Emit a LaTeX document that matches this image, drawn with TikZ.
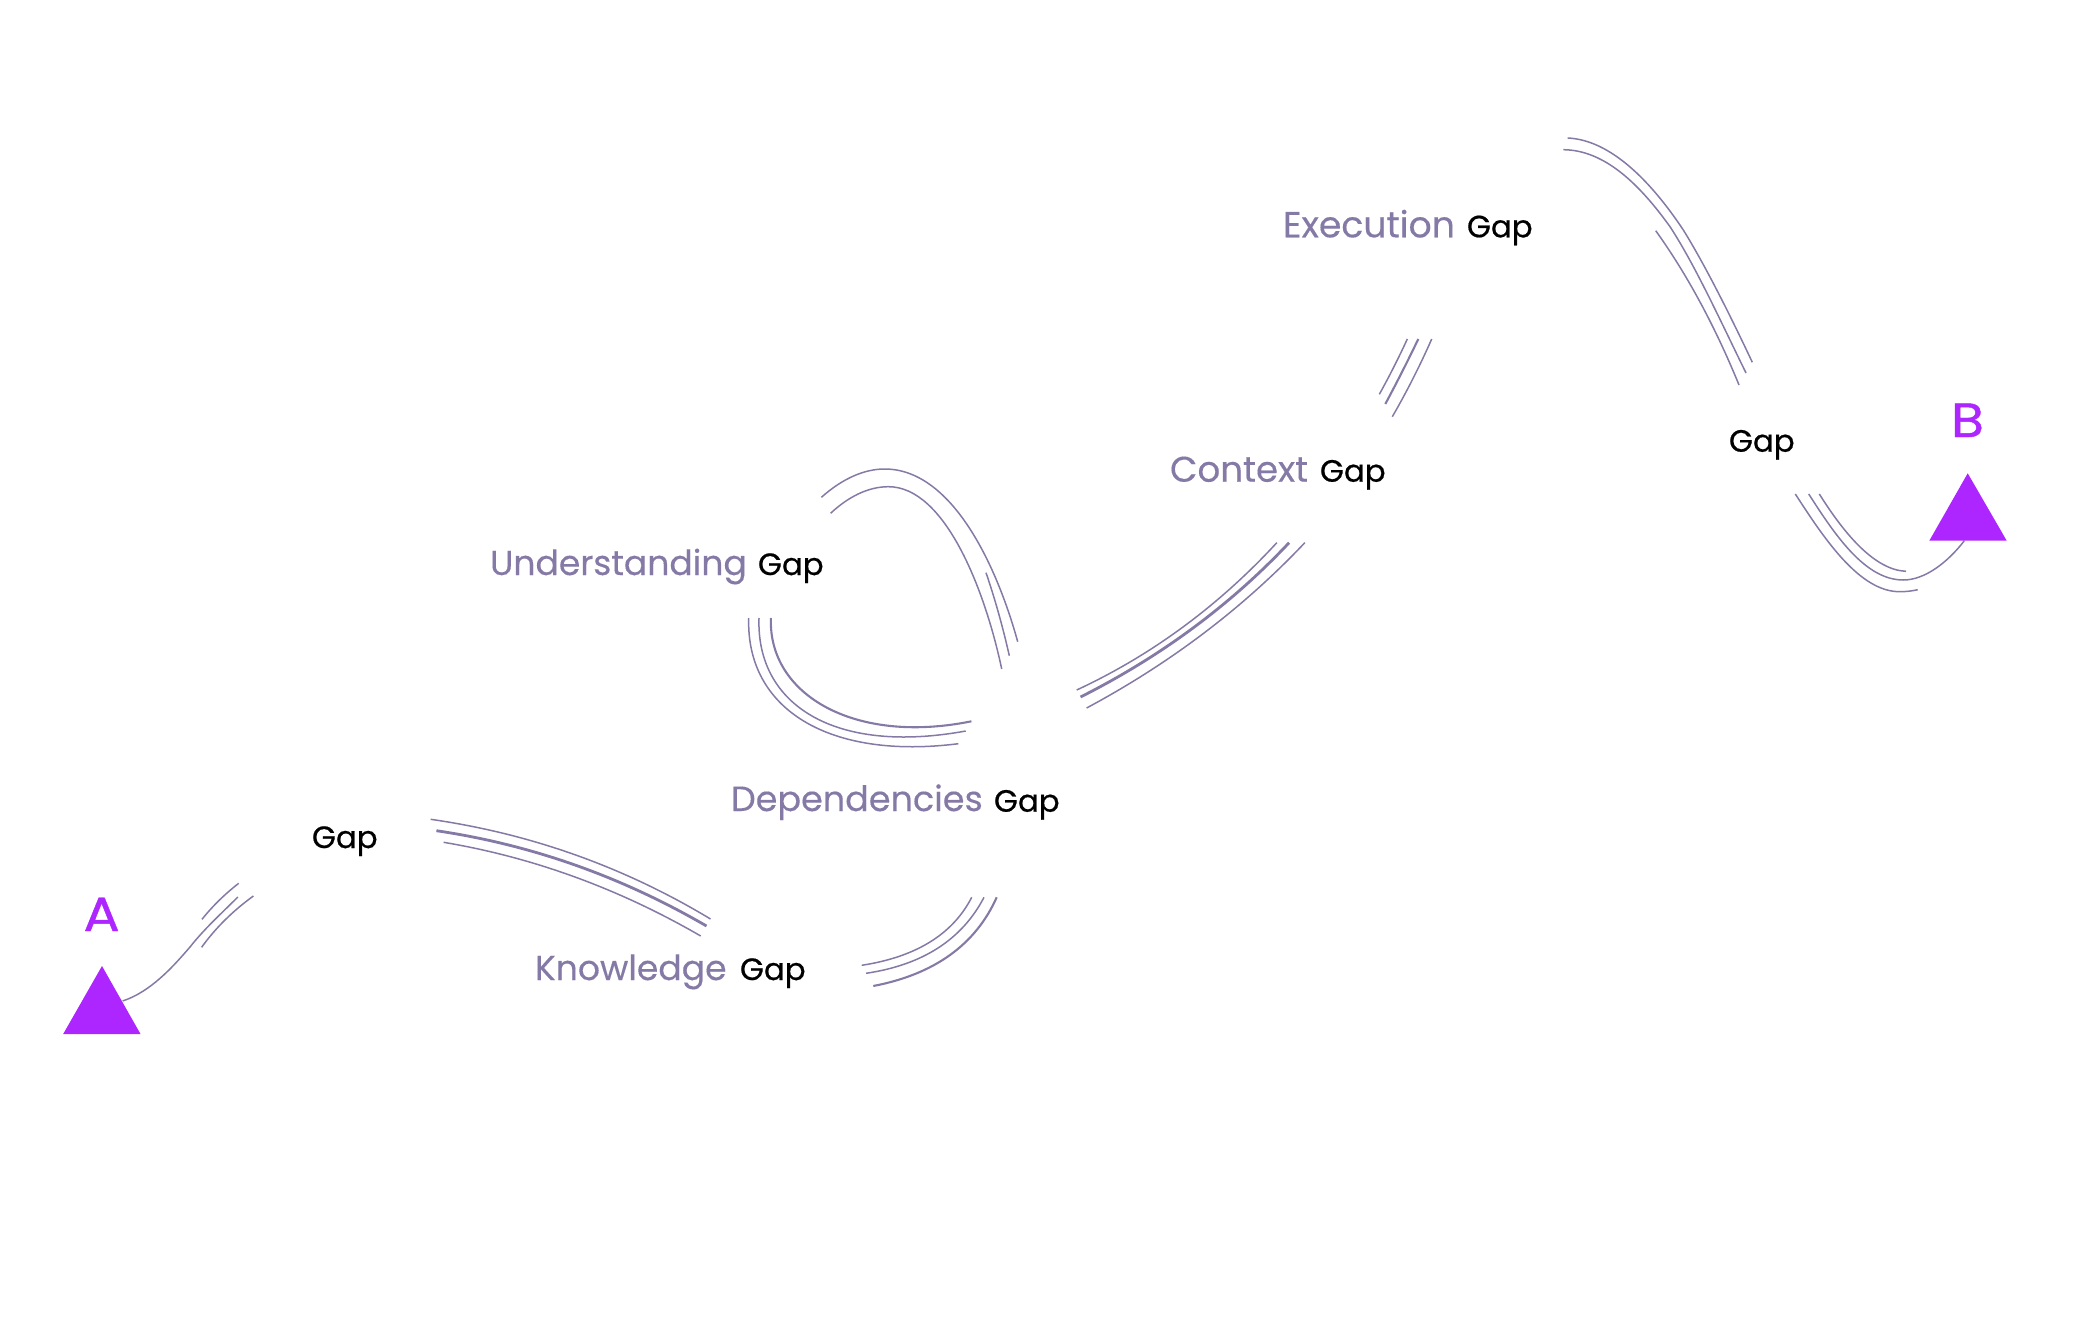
\documentclass[tikz,border=0pt]{standalone}
\usepackage{fontspec}
\usetikzlibrary{calc}
\newfontfamily\wordfont{Poppins}[FakeBold=0.3]
\newfontfamily\gapfont{Poppins}[FakeBold=0.6]
\newfontfamily\endfont{Poppins}[FakeBold=0.9,FakeStretch=1.12]
\definecolor{gapline}{HTML}{8579A6}
\definecolor{tri}{HTML}{AD26FF}
\newcommand{\arcthru}[4]{%
  \coordinate (qq) at ($2*(#3)-0.5*(#2)-0.5*(#4)$);
  \draw[#1] (#2) .. controls ($(#2)!0.6667!(qq)$) and ($(#4)!0.6667!(qq)$) .. (#4);}
\tikzset{
 x=0.5pt,y=-0.5pt,
 thin line/.style={draw=gapline,line width=0.75pt},
 medium line/.style={draw=gapline,line width=1.05pt},
 thick line/.style={draw=gapline,line width=1.4pt},
 lab/.style={anchor=base west,inner sep=0pt,outer sep=0pt},
 purple word/.style={lab,text=gapline,font=\wordfont\fontsize{#1}{20pt}\selectfont},
 purple word/.default=17.3pt,
 black word/.style={lab,text=black,font=\gapfont\fontsize{15.4pt}{18pt}\selectfont},
 endpoint/.style={lab,text=tri,font=\endfont\fontsize{24pt}{28pt}\selectfont},
 marker/.style={fill=tri,draw=none}
}
\begin{document}
\begin{tikzpicture}
\useasboundingbox (0,0) rectangle (2091,1326);
% labels
\node[endpoint] (labA) at (83.5,931) {A};
\node[endpoint] (labB) at (1951,437) {B};
\node[black word] (gap1) at (312,848) {Gap};
\node[purple word] (knowledge) at (535,980) {Knowledge};
\node[black word] (gapK) at (740,980) {Gap};
\node[purple word=17.5pt] (dependencies) at (731,811) {Dependencies};
\node[black word] (gapD) at (994,811.7) {Gap};
\node[purple word] (understanding) at (490,575) {Understanding};
\node[black word] (gapU) at (758,575) {Gap};
\node[purple word=17.8pt] (context) at (1170,481.7) {Context};
\node[black word] (gapC) at (1320,481.7) {Gap};
\node[purple word=18.1pt] (execution) at (1283,237.3) {Execution};
\node[black word] (gapE) at (1467,237.3) {Gap};
\node[black word] (gap2) at (1729,451.7) {Gap};
% A to Gap
\draw[thin line] (122.6,1001) .. controls (150,992) and (172,968) .. (190,947) .. controls (205,928) and (222,913) .. (237.8,897);
\arcthru{thin line}{202,919.3}{219,900.5}{238.7,883.3}
\arcthru{thin line}{201.6,947.3}{225,920}{253.4,896}
% Gap to Knowledge
\arcthru{thin line}{430.6,819.3}{575.7,855}{710.5,919}
\arcthru{thick line}{436.4,830.7}{575,865}{706.5,926}
\arcthru{thin line}{443.6,842.3}{575,877}{700.7,936}
% Knowledge to Dependencies
\arcthru{thin line}{861.7,965.3}{930,942}{971.7,897.3}
\arcthru{thin line}{866,973.3}{938,948}{984,897.3}
\arcthru{medium line}{873.3,986}{950,955}{996.7,897.3}
% Dependencies to Understanding
\draw[thin line] (748.7,618) .. controls (746,710) and (830,760) .. (958.4,743.7);
\draw[thin line] (759,618) .. controls (756,705) and (835,755) .. (965.7,731);
\draw[medium line] (770.9,618) .. controls (768,695) and (855,745) .. (971.4,721.3);
% Understanding to Dependencies
\draw[thin line] (821.4,497.3) .. controls (843,478) and (865,469) .. (884.6,469) .. controls (950,469) and (995,560) .. (1017.7,641.7);
\draw[thin line] (830.6,513.3) .. controls (848,497) and (868,486.7) .. (888.4,486.7) .. controls (945,486.7) and (985,590) .. (1001.7,669);
\arcthru{thin line}{986,572.7}{998.5,613}{1009.3,655.7}
% Dependencies to Context
\arcthru{thin line}{1076.7,690}{1183,627}{1276.8,542.7}
\arcthru{thick line}{1080.5,697}{1193,628}{1289.1,542.7}
\arcthru{thin line}{1086.6,708}{1204,633}{1304.8,542.7}
% Context to Execution
\arcthru{thin line}{1379.3,394.3}{1393.8,367}{1407.3,339}
\arcthru{medium line}{1385.3,404}{1402,372}{1418.3,339}
\arcthru{thin line}{1392.3,416.7}{1413,378.5}{1431.7,339}
% Execution to Gap
\draw[thin line] (1567.7,138) .. controls (1610,140) and (1650,180) .. (1683.3,230) .. controls (1705,265) and (1730,315) .. (1752.3,362.3);
\draw[thin line] (1563.3,149.7) .. controls (1605,150) and (1640,185) .. (1670,226.7) .. controls (1695,265) and (1720,320) .. (1746,373);
\arcthru{thin line}{1655.7,230.7}{1700,302}{1739,385}
% Gap to B
\draw[thin line] (1819.3,494) .. controls (1845,535) and (1875,570) .. (1906,571.3);
\draw[thin line] (1808.7,494) .. controls (1835,535) and (1865,580) .. (1903.3,580) .. controls (1925,580) and (1948,562) .. (1964.3,540.7);
\draw[thin line] (1795.3,494) .. controls (1825,540) and (1860,592) .. (1900,591.7) .. controls (1906,591.7) and (1912,591) .. (1917.7,589.7);
% markers
\fill[marker] (102,966) -- (140.5,1034) -- (63.2,1034) -- cycle;
\fill[marker] (1967.7,473.3) -- (2006.7,540.7) -- (1929.3,540.7) -- cycle;
\end{tikzpicture}
\end{document}
